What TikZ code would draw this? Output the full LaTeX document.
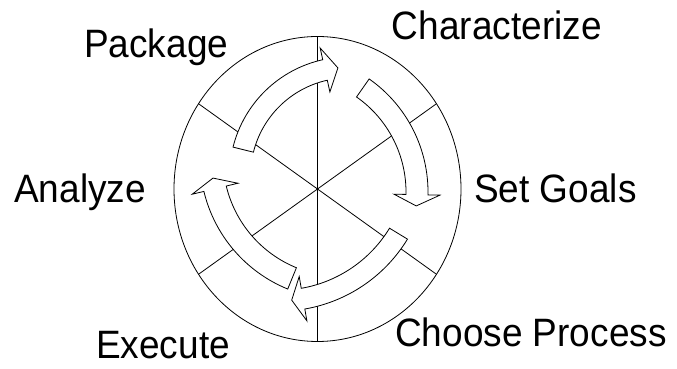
\documentclass[tikz,border=0pt]{standalone}
\usepackage{fontspec}
\setmainfont{Liberation Sans}
\usepackage{tikz}
\usetikzlibrary{calc}

% curved block arrow: centre, inner radius, outer radius, tail angle, head angle, tip offset
\newcommand{\cyclearrow}[6]{%
  \draw[blockarrow] ($(#1)+(#4:#3)$) arc[start angle=#4, end angle=#5, radius=#3]
    -- ($(#1)+({#5}:{#3+12})$) -- ($(#1)+({#5-#6}:{(#2+#3)/2})$)
    -- ($(#1)+({#5}:{#2-12})$) -- ($(#1)+(#5:#2)$)
    arc[start angle=#5, end angle=#4, radius=#2] -- cycle;}
\newcommand{\stagetext}[1]{\scalebox{1}[1.07]{#1}}

\begin{document}
\begin{tikzpicture}[x=1pt,y=1pt,
  spoke/.style={line width=0.8pt},
  blockarrow/.style={draw,line width=0.8pt,fill=white},
  stage/.style={anchor=base west,inner sep=0pt,font=\fontsize{37}{40}\selectfont}]
\useasboundingbox (0,0) rectangle (677,369);
\coordinate (c) at (317.5,180);
\foreach \a in {34,90,146,214,270,326}
  \draw[spoke] (c) -- ++(\a:143.5 and 152.5);

\coordinate (pkgc) at (348.5,193.1);
\coordinate (chrc) at (290,177);
\coordinate (choc) at (279.3,207.8);
\coordinate (exec) at (341,210.5);
\cyclearrow{pkgc}{98}{119}{166}{102.5}{6.9}
\cyclearrow{chrc}{116}{138}{55}{-1.2}{5.1}
\cyclearrow{choc}{129}{150}{-31.3}{-80.2}{4.7}
\cyclearrow{exec}{118}{141}{247.8}{193.5}{4.8}

\draw[spoke] (c) ellipse [x radius=143.5, y radius=152.5];

\node[stage] (characterize) at (391.7,329) {\stagetext{Characterize}};
\node[stage] (package) at (84,311) {\stagetext{Package}};
\node[stage] (analyze) at (14,166) {\stagetext{Analyze}};
\node[stage] (setgoals) at (474,166) {\stagetext{Set Goals}};
\node[stage] (choose) at (395,22) {\stagetext{Choose Process}};
\node[stage] (execute) at (96,10) {\stagetext{Execute}};
\end{tikzpicture}
\end{document}
